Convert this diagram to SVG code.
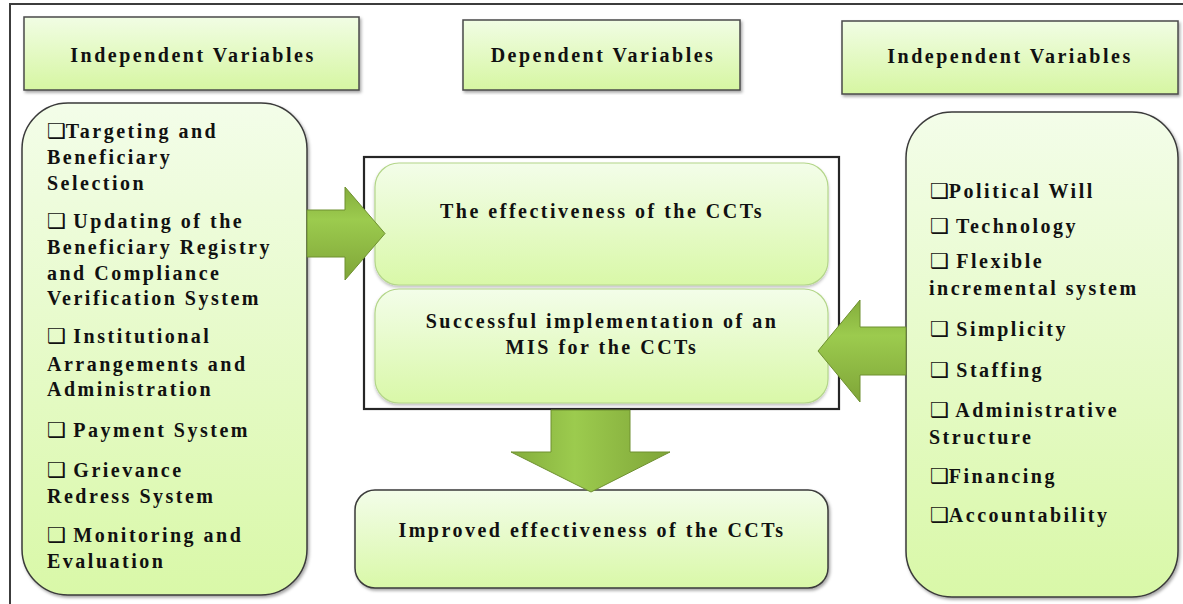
<svg xmlns="http://www.w3.org/2000/svg" width="1183" height="604" viewBox="0 0 1183 604">
  <defs>
    <linearGradient id="boxFill" x1="0" y1="0" x2="0" y2="1">
      <stop offset="0" stop-color="#f3fde9"/>
      <stop offset="1" stop-color="#d9f8a8"/>
    </linearGradient>
    <linearGradient id="headFill" x1="0" y1="0" x2="0" y2="1">
      <stop offset="0" stop-color="#f1fde4"/>
      <stop offset="1" stop-color="#d6f6a2"/>
    </linearGradient>
    <linearGradient id="arrowH" x1="0" y1="0" x2="0" y2="1">
      <stop offset="0" stop-color="#84ad3c"/>
      <stop offset="0.35" stop-color="#9ccb4e"/>
      <stop offset="1" stop-color="#7fa538"/>
    </linearGradient>
    <linearGradient id="arrowV" x1="0" y1="0" x2="1" y2="0">
      <stop offset="0" stop-color="#84ad3c"/>
      <stop offset="0.4" stop-color="#9ccb4e"/>
      <stop offset="1" stop-color="#7fa538"/>
    </linearGradient>
    <filter id="shadow" x="-5%" y="-5%" width="112%" height="112%">
      <feDropShadow dx="1.5" dy="2" stdDeviation="1.5" flood-color="#000" flood-opacity="0.35"/>
    </filter>
    <filter id="softShadow" x="-5%" y="-5%" width="112%" height="112%">
      <feDropShadow dx="0" dy="2" stdDeviation="1.5" flood-color="#000" flood-opacity="0.25"/>
    </filter>
  </defs>
  <style>
    .frame { fill: none; stroke: #3c3c3c; stroke-width: 2; }
    .header { fill: url(#headFill); stroke: #4a4a4a; stroke-width: 1.5; filter: url(#shadow); }
    .outer { fill: url(#boxFill); stroke: #3a3a3a; stroke-width: 1.5; filter: url(#shadow); }
    .inner { fill: url(#boxFill); stroke: #b4d68a; stroke-width: 1.2; filter: url(#softShadow); }
    .group { fill: none; stroke: #262626; stroke-width: 2.2; }
    .arrow-h { fill: url(#arrowH); stroke: #6e9030; stroke-width: 1; }
    .arrow-v { fill: url(#arrowV); stroke: #6e9030; stroke-width: 1; }
    text { font-family: "Liberation Serif", "Times New Roman", serif; font-weight: bold; font-size: 20px; letter-spacing: 2.5px; fill: #111; }
    .mid { text-anchor: middle; }
    .chk { font-family: "DejaVu Sans", sans-serif; font-weight: normal; font-size: 21px; letter-spacing: 0px; }
  </style>

  <!-- page frame (open to the right and bottom) -->
  <path class="frame" d="M10,604 V4 H1183"/>

  <!-- column headers -->
  <g id="header-left">
    <rect class="header" x="24" y="17" width="335" height="73"/>
    <text class="mid" x="193" y="62">Independent Variables</text>
  </g>
  <g id="header-middle">
    <rect class="header" x="463" y="20" width="277" height="70"/>
    <text class="mid" x="603" y="62">Dependent Variables</text>
  </g>
  <g id="header-right">
    <rect class="header" x="842" y="21" width="336" height="73"/>
    <text class="mid" x="1010" y="63">Independent Variables</text>
  </g>

  <!-- left list of independent variables -->
  <g id="left-variables">
    <rect class="outer" x="22" y="103" width="285" height="492" rx="46" ry="46"/>
    <text x="47" y="138"><tspan class="chk">❑</tspan>Targeting and</text>
    <text x="47" y="164">Beneficiary</text>
    <text x="47" y="190">Selection</text>
    <text x="47" y="228"><tspan class="chk">❑</tspan> Updating of the</text>
    <text x="47" y="254">Beneficiary Registry</text>
    <text x="47" y="280">and Compliance</text>
    <text x="47" y="305">Verification System</text>
    <text x="47" y="343"><tspan class="chk">❑</tspan> Institutional</text>
    <text x="47" y="371">Arrangements and</text>
    <text x="47" y="396">Administration</text>
    <text x="47" y="437"><tspan class="chk">❑</tspan> Payment System</text>
    <text x="47" y="477"><tspan class="chk">❑</tspan> Grievance</text>
    <text x="47" y="503">Redress System</text>
    <text x="47" y="542"><tspan class="chk">❑</tspan> Monitoring and</text>
    <text x="47" y="568">Evaluation</text>
  </g>

  <!-- dependent variables -->
  <g id="dependent-group">
    <rect class="group" x="364" y="157" width="475" height="252"/>
  </g>
  <g id="effectiveness">
    <rect class="inner" x="375" y="163" width="453" height="122" rx="24" ry="24"/>
    <text class="mid" x="602" y="218">The effectiveness of the CCTs</text>
  </g>
  <g id="mis-implementation">
    <rect class="inner" x="375" y="289" width="453" height="114" rx="24" ry="24"/>
    <text class="mid" x="602" y="328">Successful implementation of an</text>
    <text class="mid" x="602" y="354">MIS for the CCTs</text>
  </g>

  <!-- outcome -->
  <g id="outcome">
    <rect class="outer" x="355" y="490" width="473" height="98" rx="20" ry="20"/>
    <text class="mid" x="592" y="537">Improved effectiveness of the CCTs</text>
  </g>

  <!-- right list of independent variables -->
  <g id="right-variables">
    <rect class="outer" x="906" y="112" width="272" height="485" rx="46" ry="46"/>
    <text x="930" y="198"><tspan class="chk">❑</tspan>Political Will</text>
    <text x="930" y="233"><tspan class="chk">❑</tspan> Technology</text>
    <text x="930" y="268"><tspan class="chk">❑</tspan> Flexible</text>
    <text x="929" y="295">incremental system</text>
    <text x="930" y="336"><tspan class="chk">❑</tspan> Simplicity</text>
    <text x="930" y="377"><tspan class="chk">❑</tspan> Staffing</text>
    <text x="930" y="417"><tspan class="chk">❑</tspan> Administrative</text>
    <text x="929" y="444">Structure</text>
    <text x="930" y="483"><tspan class="chk">❑</tspan>Financing</text>
    <text x="930" y="522"><tspan class="chk">❑</tspan>Accountability</text>
  </g>

  <!-- block arrows -->
  <g id="connectors">
    <path class="arrow-h" d="M307,210 H345 V187 L385,233.5 L345,280 V257 H307 Z"/>
    <path class="arrow-h" d="M906,327 H860 V300 L818,351 L860,402 V375 H906 Z"/>
    <path class="arrow-v" d="M551,410 H630 V452 H670 L591,492 L511,452 H551 Z"/>
  </g>
</svg>
